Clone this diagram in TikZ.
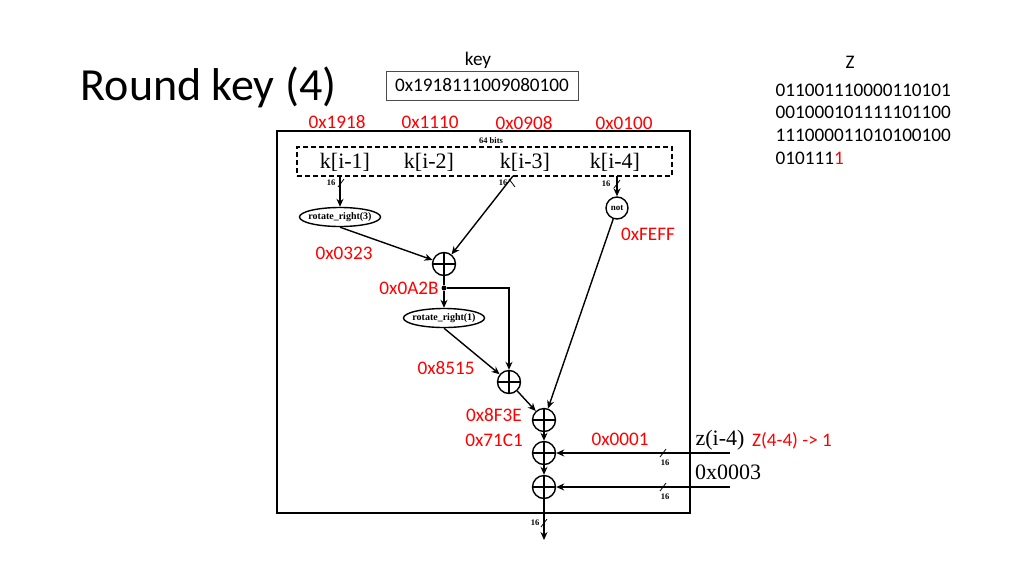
\documentclass[tikz,border=0pt]{standalone}
\usepackage{fontspec}
\setmainfont{Carlito}
\newfontfamily\tms{Liberation Serif}
\usetikzlibrary{shapes, arrows.meta, positioning, calc}
\tikzstyle{xorgate} = [circle, draw=black, minimum size=23pt, inner sep=0pt, path picture={\draw (path picture bounding box.north) -- (path picture bounding box.south) (path picture bounding box.west) -- (path picture bounding box.east);}]
\tikzstyle{rotbox} = [rectangle, minimum width=81pt, minimum height=19pt, inner sep=0pt, font=\tms\bfseries\fontsize{10}{10}\selectfont]
\tikzstyle{notgate} = [circle, draw=black, minimum size=22pt, inner sep=0pt, font=\tms\bfseries\fontsize{9}{9}\selectfont]
\tikzstyle{hexval} = [text=red, inner sep=0pt, font=\fontsize{19.2}{23}\selectfont]
\tikzstyle{slide} = [inner sep=0pt, font=\fontsize{19.2}{23}\selectfont]
\tikzstyle{kword} = [inner sep=0pt, font=\tms\fontsize{22}{22}\selectfont]
\tikzstyle{buswidth} = [inner sep=0pt, font=\tms\bfseries\fontsize{8.5}{8.5}\selectfont]

\begin{document}
\begin{tikzpicture}[x=1pt, y=-1pt, line width=1.4pt, >={Stealth[length=8pt, width=7pt]}]
\useasboundingbox (0,0) rectangle (1024,576);
% slide texts
\node (title) [anchor=base west, inner sep=0pt, font=\fontsize{46}{46}\selectfont] at (80,100) {Round key (4)};
\node (keylbl) [slide] at (478,60) {key};
\node (keyval) [slide, draw=black!70, line width=1pt, minimum width=192pt, minimum height=29pt] at (482,85.5) {0x1918111009080100};
\node (zlbl) [slide] at (850,62) {Z};
\node (z1) [slide, anchor=base west] at (775,96) {011001110000110101};
\node (z2) [slide, anchor=base west] at (775,118) {001000101111101100};
\node (z3) [slide, anchor=base west] at (775,141) {111000011010100100};
\node (z4) [slide, anchor=base west] at (775,164) {010111\textcolor{red}{1}};
\node (h1) [hexval] at (337,122) {0x1918};
\node (h2) [hexval] at (430,122) {0x1110};
\node (h3) [hexval] at (524,123) {0x0908};
\node (h4) [hexval] at (624,123) {0x0100};

% block
\node (frame) [draw=black, minimum width=413pt, minimum height=382pt] at (483.5,322) {};
\node (reg) [draw=black, dash pattern=on 5pt off 3pt, minimum width=375pt, minimum height=29pt] at (484.5,161.5) {};
\node (bits) [buswidth] at (491,141) {64 bits};
\node (k1) [kword] at (345,162) {k[i-1]};
\node (k2) [kword] at (429,162) {k[i-2]};
\node (k3) [kword] at (525,162) {k[i-3]};
\node (k4) [kword] at (615,162) {k[i-4]};
\coordinate (k1s) at (340,176);
\coordinate (k3s) at (513,176);
\coordinate (k4s) at (617,176);

\node (rot3) [rotbox] at (340,217) {rotate\_right(3)};
\node (notn) [notgate] at (617,208) {not};
\node (xor1) [xorgate] at (444,264) {};
\node (tap) [circle, fill=black, inner sep=0pt, minimum size=5pt] at (444,288) {};
\node (rot1) [rotbox] at (444,318) {rotate\_right(1)};
\node (xor3) [xorgate] at (509,382) {};
\node (xor4) [xorgate] at (544,420) {};
\node (xor5) [xorgate] at (544,453) {};
\node (xor6) [xorgate] at (544,487) {};
\coordinate (zin) at (730,453);
\coordinate (cin) at (730,487);
\coordinate (out) at (544,540);
\foreach \r in {rot3, rot1}
  \draw (\r.center) ellipse [x radius=40.5, y radius=9.5];

\draw [->] (k1s) -- (rot3.north);
\draw [->] (k3s) -- (xor1);
\draw [->] (k4s) -- (notn);
\draw [->] (rot3.south) -- (xor1);
\draw (xor1) -- (tap);
\draw [->] (tap) -- (rot1.north);
\draw [->] (tap) -| (xor3);
\draw [->] (rot1.south) -- (xor3);
\draw [->] (xor3) -- (xor4);
\draw [->] (notn) -- (xor4);
\draw [->] (xor4) -- (xor5);
\draw [->] (xor5) -- (xor6);
\draw [->] (zin) -- (xor5);
\draw [->] (cin) -- (xor6);
\draw [->] (xor6) -- (out);

% bus width marks
\foreach \x/\y in {341/183, 617/184, 663/453, 663/487, 544/523}
  \draw [line width=0.8pt] (\x-3,\y+4) -- (\x+3,\y-4);
\draw [line width=0.8pt] (509,179) -- (515,187);
\node (w1) [buswidth] at (331,183) {16};
\node (w3) [buswidth] at (503,183) {16};
\node (w4) [buswidth] at (606,184) {16};
\node (w5) [buswidth] at (665,463) {16};
\node (w6) [buswidth] at (665,497) {16};
\node (w7) [buswidth] at (535,523) {16};

% values
\node (v1) [hexval] at (344,253) {0x0323};
\node (v2) [hexval] at (648,234) {0xFEFF};
\node (v3) [hexval] at (409,288) {0x0A2B};
\node (v4) [hexval] at (446,368) {0x8515};
\node (v5) [hexval] at (494,415) {0x8F3E};
\node (v6) [hexval] at (494,440) {0x71C1};
\node (v7) [hexval] at (620,439) {0x0001};
\node (zi) [kword] at (720,440) {z(i-4)};
\node (zv) [hexval] at (792,441) {Z(4-4) -> 1};
\node (c3) [kword] at (728,472) {0x0003};
\end{tikzpicture}
\end{document}
